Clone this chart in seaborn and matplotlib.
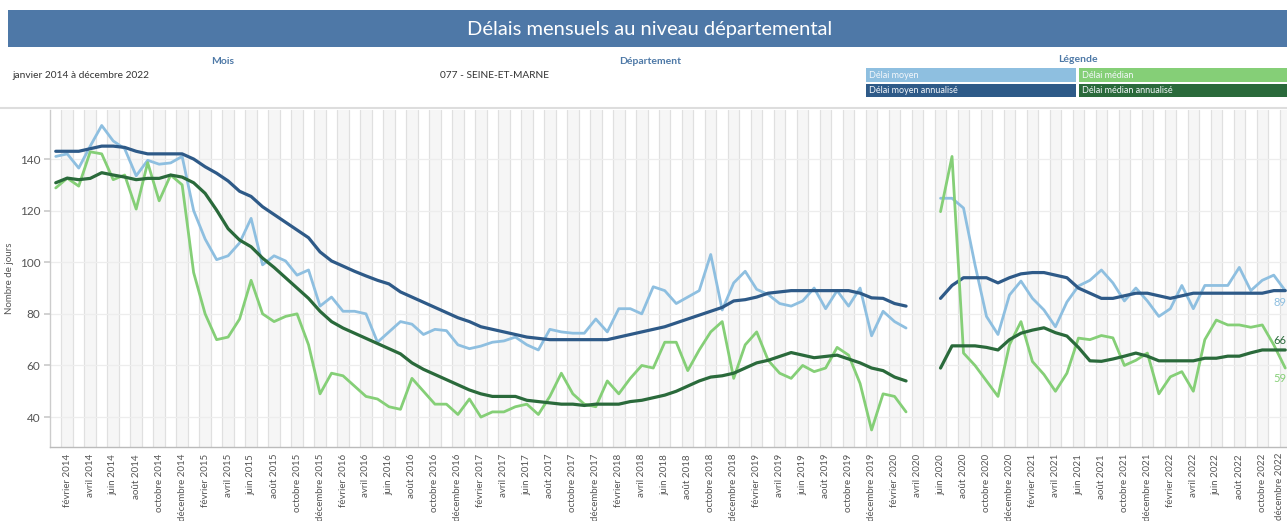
import matplotlib
matplotlib.use("Agg")
import matplotlib.pyplot as plt
import seaborn as sns
import pandas as pd
from matplotlib.patches import Rectangle
from matplotlib.lines import Line2D

sns.set_theme(style="white")
plt.rcParams["font.family"] = ["Lato", "DejaVu Sans"]

# ---------------- data ----------------
MOIS_NOMS = ["janvier", "février", "mars", "avril", "mai", "juin", "juillet",
             "août", "septembre", "octobre", "novembre", "décembre"]
ANNEES = list(range(2014, 2023))
mois = [f"{m} {a}" for a in ANNEES for m in MOIS_NOMS]

N = None
# Délai moyen (jan 2014 .. déc 2022, avril-mai 2020 manquants)
delai_moyen = [
    141, 142, 136.5, 145, 153, 147, 144, 133.5, 139.5, 138, 138.5, 141,          # 2014
    120, 109, 101, 102.5, 107.5, 117, 99, 102.5, 100.5, 95, 97, 83,              # 2015
    86.5, 81, 81, 80, 69, 73, 77, 76, 72, 74, 73.5, 68,                           # 2016
    66.5, 67.5, 69, 69.5, 71, 68, 66, 74, 73, 72.5, 72.5, 78,                     # 2017
    73, 82, 82, 80, 90.5, 89, 84, 86.5, 89, 103, 81.5, 92,                        # 2018
    96.5, 89.5, 87.5, 84, 83, 85, 90, 82, 89, 83, 90, 71.5,                       # 2019
    81, 77, 74.5, N, N, 124.8, 124.8, 121, 99, 79, 72, 87.3,                      # 2020
    92.7, 86, 81.5, 75, 84.6, 90.8, 93, 97, 92, 85, 90, 85,                       # 2021
    79, 82, 91, 82, 91, 91, 91, 98, 89, 93, 95, 89,                               # 2022
]
delai_moyen_annualise = [
    143, 143, 143, 144, 145, 145, 144.5, 143, 142, 142, 142, 142,
    140, 137, 134.5, 131.5, 127.5, 125.5, 121.5, 118.5, 115.5, 112.5, 109.5, 104,
    100.5, 98.5, 96.5, 94.7, 93, 91.6, 88.5, 86.5, 84.5, 82.5, 80.5, 78.5,
    77, 75, 74, 73, 72, 71, 70.5, 70, 70, 70, 70, 70,
    70, 71, 72, 73, 74, 75, 76.5, 78, 79.5, 81, 82.5, 85,
    85.5, 86.5, 88, 88.5, 89, 89, 89, 89, 89, 89, 88, 86.2,
    86, 84, 83, N, N, 86, 91, 94, 94, 94, 92, 94,
    95.5, 96, 96, 95, 94, 90, 88, 86, 86, 87, 88, 88,
    87, 86, 87, 88, 88, 88, 88, 88, 88, 88, 89, 89,
]
delai_median = [
    128.8, 132.6, 129.5, 142.8, 142, 132, 133.8, 120.6, 138.6, 123.8, 133.8, 130,
    96, 80, 70, 71, 78, 93, 80, 77, 79, 80, 68, 49,
    57, 56, 52, 48, 47, 44, 43, 55, 50, 45, 45, 41,
    47, 40, 42, 42, 44, 45, 41, 48, 57, 49, 45, 44,
    54, 49, 55, 60, 59, 69, 69, 58, 66, 73, 77, 55,
    68, 73, 62, 57, 55, 60, 57.6, 59, 67, 64, 53, 35,
    49, 48, 42, N, N, 119.6, 141, 64.8, 60, 54, 48, 68,
    77, 61.5, 56.5, 50, 57, 70.6, 70, 71.6, 70.7, 60, 62, 64.8,
    49, 55.6, 57.6, 50, 70, 77.6, 75.7, 75.7, 74.8, 75.7, 68, 59,
]
delai_median_annualise = [
    130.8, 132.6, 132, 132.5, 134.7, 133.8, 133, 132, 132.5, 132.5, 133.8, 133,
    130.8, 126.7, 120.2, 113, 108.6, 106, 101.6, 98, 94, 90, 86, 81,
    77, 74.5, 72.5, 70.5, 68.5, 66.5, 64.5, 61, 58.5, 56.5, 54.5, 52.5,
    50.5, 49, 48, 48, 48, 46.5, 46, 45.5, 45, 45, 44.5, 45,
    45, 45, 46, 46.5, 47.5, 48.5, 50, 52, 54, 55.5, 56, 57,
    59, 61, 62, 63.5, 65, 64, 63, 63.5, 64, 62.5, 61, 59,
    58, 55.5, 54, N, N, 59, 67.6, 67.6, 67.6, 67, 66, 70,
    72.5, 73.7, 74.6, 72.7, 71.4, 67, 61.8, 61.6, 62.5, 63.6, 64.8, 63.6,
    61.8, 61.8, 61.8, 61.8, 62.8, 62.8, 63.6, 63.6, 64.9, 66, 66, 66,
]

series = ["Délai moyen", "Délai moyen annualisé", "Délai médian", "Délai médian annualisé"]
colors = {"Délai moyen": "#8ebfe0", "Délai moyen annualisé": "#2e5a88",
          "Délai médian": "#85cf77", "Délai médian annualisé": "#2a6a3b"}
widths = {"Délai moyen": 2.0, "Délai moyen annualisé": 2.3,
          "Délai médian": 2.0, "Délai médian annualisé": 2.3}

df = pd.DataFrame({"idx": range(len(mois)), "mois": mois,
                   "Délai moyen": delai_moyen,
                   "Délai moyen annualisé": delai_moyen_annualise,
                   "Délai médian": delai_median,
                   "Délai médian annualisé": delai_median_annualise})
long = df.melt(id_vars=["idx", "mois"], var_name="serie", value_name="jours").dropna()
long["jours"] = long["jours"].astype(float)
long["segment"] = (long["idx"] > 75).astype(int)

# ---------------- figure ----------------
W, H = 1287, 521
fig = plt.figure(figsize=(W / 100, H / 100), dpi=100)


def fx(x):
    return x / W


def fy(y):
    return 1 - y / H


# header banner
fig.patches.append(Rectangle((fx(8), fy(47)), 1.0, (47 - 10) / H, transform=fig.transFigure,
                             facecolor="#4e78a7", edgecolor="none", zorder=0))
fig.text(fx(650), fy(29), "Délais mensuels au niveau départemental", color="white",
         fontsize=14.5, ha="center", va="center")

hdr_col = "#4e79a7"
fig.text(fx(223), fy(61), "Mois", color=hdr_col, fontsize=7.5, fontweight="bold", ha="center", va="center")
fig.text(fx(12), fy(75), "janvier 2014 à décembre 2022", color="#333333", fontsize=7.3, ha="left", va="center")
fig.text(fx(650), fy(61), "Département", color=hdr_col, fontsize=7.5, fontweight="bold", ha="center", va="center")
fig.text(fx(440), fy(75), "077 - SEINE-ET-MARNE", color="#333333", fontsize=7.3, ha="left", va="center")
fig.text(fx(1078), fy(59), "Légende", color=hdr_col, fontsize=7.5, fontweight="bold", ha="center", va="center")

legend_boxes = [("Délai moyen", 866, 68, 1076, 82),
                ("Délai médian", 1079, 68, 1300, 82),
                ("Délai moyen annualisé", 866, 84, 1076, 97),
                ("Délai médian annualisé", 1079, 84, 1300, 97)]
for name, x0, y0, x1, y1 in legend_boxes:
    fig.patches.append(Rectangle((fx(x0), fy(y1)), (x1 - x0) / W, (y1 - y0) / H,
                                 transform=fig.transFigure, facecolor=colors[name],
                                 edgecolor="none", zorder=0))
    fig.text(fx(x0 + 3), fy((y0 + y1) / 2), name, color="#f4f7fb", fontsize=6.5,
             ha="left", va="center")

# separator line
fig.add_artist(Line2D([0, 1], [fy(108), fy(108)], transform=fig.transFigure,
                      color="#dddddd", lw=1.5))

# main axes
ax = fig.add_axes([fx(50), fy(447), (1291 - 50) / W, (447 - 110) / H])
ax.set_xlim(-0.5, 107.5)
ax.set_ylim(28.4, 159)

for i in range(1, 108, 2):
    ax.axvspan(i - 0.5, i + 0.5, color="#f6f6f6", lw=0, zorder=0)
for i in range(108):
    ax.axvline(i + 0.5, color="#e0e0e0", lw=0.9, zorder=0.5)
for v in range(40, 160, 20):
    ax.axhline(v, color="#ededed", lw=0.9, zorder=0.6)

for s in series:
    sub = long[long["serie"] == s]
    sns.lineplot(data=sub, x="idx", y="jours", units="segment", estimator=None,
                 color=colors[s], lw=widths[s], ax=ax, legend=False, zorder=3)

# end labels (kept inside the figure's right edge)
fig.text(fx(1286), fy(302), "89", color=colors["Délai moyen"], fontsize=8, ha="right", va="center")
fig.text(fx(1286), fy(340), "66", color=colors["Délai médian annualisé"], fontsize=8, ha="right", va="center")
fig.text(fx(1286), fy(379), "59", color=colors["Délai médian"], fontsize=8, ha="right", va="center")

tick_pos = list(range(1, 108, 2))
tick_lab = mois[1::2]
ax.set_xticks(tick_pos)
ax.set_xticklabels(tick_lab[:-1] + [""], rotation=90, fontsize=7, color="#555555",
                   va="top", ha="center")
# last label ("décembre 2022") drawn slightly left so that it stays inside the figure
fig.text(fx(1280), fy(453), tick_lab[-1], rotation=90, fontsize=7, color="#555555",
         ha="center", va="top")

ax.set_yticks([40, 60, 80, 100, 120, 140])
ax.set_yticklabels(["40", "60", "80", "100", "120", "140"], fontsize=8.5, color="#555555")
ax.tick_params(axis="x", length=0, pad=5)
ax.tick_params(axis="y", length=4, color="#cccccc", pad=3, left=True)
ax.set_xlabel("")
ax.set_ylabel("Nombre de jours", fontsize=7, color="#555555", labelpad=4)

for side in ["top", "right"]:
    ax.spines[side].set_visible(False)
ax.spines["left"].set_color("#cccccc")
ax.spines["bottom"].set_color("#bbbbbb")
ax.spines["left"].set_linewidth(1)
ax.spines["bottom"].set_linewidth(1)

fig.savefig("out.png", dpi=100)
